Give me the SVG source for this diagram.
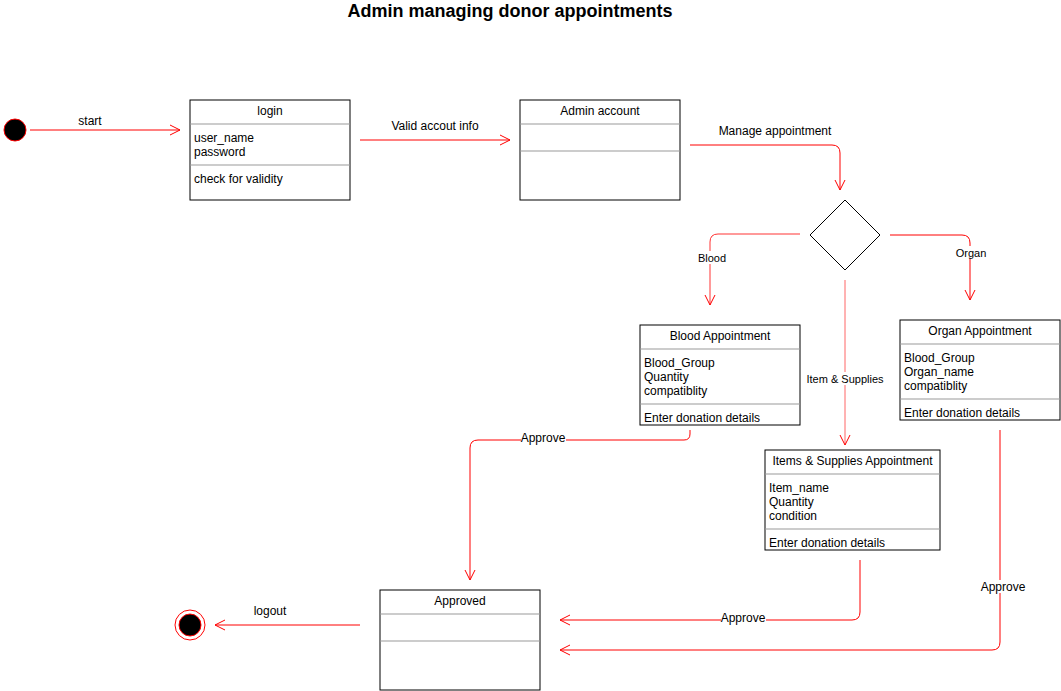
<svg xmlns="http://www.w3.org/2000/svg" width="1061" height="691" viewBox="0 0 1061 691">
<style>
text{font-family:"Liberation Sans",Arial,Helvetica,sans-serif;font-size:12px;fill:#000}
.box{fill:#fff;stroke:#000;stroke-width:1}
.sep{stroke:#999;stroke-width:1}
.c{text-anchor:middle}
.e{fill:none;stroke:#ff0000;stroke-width:1;marker-end:url(#arr)}
.lbl{font-size:11px;text-anchor:middle}
.bg{fill:#fff}
</style>
<defs>
<marker id="arr" viewBox="0 0 12 12" refX="11" refY="6" markerWidth="12" markerHeight="12" markerUnits="userSpaceOnUse" orient="auto">
<path d="M1,1 L11,6 L1,11" fill="none" stroke="#ff0000" stroke-width="1"/>
</marker>
</defs>
<rect width="1061" height="691" fill="#fff"/>
<text x="510" y="17" class="c" style="font-size:18px;font-weight:bold">Admin managing donor appointments</text>

<g id="connectors">
<path class="e" d="M30,130 L180,130"/>
<text x="90" y="125" class="c">start</text>
<path class="e" d="M360,140 L510,140"/>
<text x="435" y="130" class="c">Valid accout info</text>
<path class="e" d="M690,145 L832,145 Q840,145 840,153 L840,190"/>
<text x="775" y="135" class="c">Manage appointment</text>
<path class="e" d="M800,234 L718,234 Q710,234 710,242 L710,305" stroke-opacity="0.8"/>
<rect x="696" y="251" width="32" height="13" class="bg"/>
<text x="712" y="262" class="lbl">Blood</text>
<path class="e" d="M890,235 L962,235 Q970,235 970,243 L970,300"/>
<rect x="954" y="246" width="34" height="13" class="bg"/>
<text x="971" y="257" class="lbl">Organ</text>
<path class="e" d="M845,280 L845,445" stroke-opacity="0.6"/>
<rect x="805" y="372" width="80" height="13" class="bg"/>
<text x="845" y="383" class="lbl">Item &amp; Supplies</text>
<path class="e" d="M690,430 L690,434 Q690,440 684,440 L478,440 Q470,440 470,448 L470,580"/>
<rect x="521" y="431" width="45" height="13" class="bg"/>
<text x="543" y="442" class="c">Approve</text>
<path class="e" d="M860,560 L860,612 Q860,620 852,620 L560,620"/>
<rect x="721" y="611" width="45" height="13" class="bg"/>
<text x="743" y="622" class="c">Approve</text>
<path class="e" d="M1000,430 L1000,642 Q1000,650 992,650 L560,650"/>
<rect x="980" y="580" width="46" height="13" class="bg"/>
<text x="1003" y="591" class="c">Approve</text>
<path class="e" d="M360,625 L215,625"/>
<text x="270" y="615" class="c">logout</text>
</g>

<g id="start">
<circle cx="15" cy="130" r="11" fill="#000" stroke="#ff0000" stroke-width="1"/>
</g>

<g id="login">
<rect x="190" y="100" width="160" height="100" class="box"/>
<line x1="190" y1="124" x2="350" y2="124" class="sep"/>
<line x1="190" y1="165" x2="350" y2="165" class="sep"/>
<text x="270" y="115" class="c">login</text>
<text x="194" y="142">user_name</text>
<text x="194" y="156">password</text>
<text x="194" y="183">check for validity</text>
</g>

<g id="admin">
<rect x="520" y="100" width="160" height="100" class="box"/>
<line x1="520" y1="124" x2="680" y2="124" class="sep"/>
<line x1="520" y1="151" x2="680" y2="151" class="sep"/>
<text x="600" y="115" class="c">Admin account</text>
</g>

<g id="decision">
<polygon points="845,200 880,235 845,270 810,235" fill="#fff" stroke="#000" stroke-width="1"/>
</g>

<g id="blood">
<rect x="640" y="325" width="160" height="100" class="box"/>
<line x1="640" y1="349" x2="800" y2="349" class="sep"/>
<line x1="640" y1="404" x2="800" y2="404" class="sep"/>
<text x="720" y="340" class="c">Blood Appointment</text>
<text x="644" y="367">Blood_Group</text>
<text x="644" y="381">Quantity</text>
<text x="644" y="395">compatiblity</text>
<text x="644" y="422">Enter donation details</text>
</g>

<g id="organ">
<rect x="900" y="320" width="160" height="100" class="box"/>
<line x1="900" y1="344" x2="1060" y2="344" class="sep"/>
<line x1="900" y1="399" x2="1060" y2="399" class="sep"/>
<text x="980" y="335" class="c">Organ Appointment</text>
<text x="904" y="362">Blood_Group</text>
<text x="904" y="376">Organ_name</text>
<text x="904" y="390">compatiblity</text>
<text x="904" y="417">Enter donation details</text>
</g>

<g id="items">
<rect x="765" y="450" width="175" height="100" class="box"/>
<line x1="765" y1="474" x2="940" y2="474" class="sep"/>
<line x1="765" y1="529" x2="940" y2="529" class="sep"/>
<text x="852.5" y="465" class="c">Items &amp; Supplies Appointment</text>
<text x="769" y="492">Item_name</text>
<text x="769" y="506">Quantity</text>
<text x="769" y="520">condition</text>
<text x="769" y="547">Enter donation details</text>
</g>

<g id="approved">
<rect x="380" y="590" width="160" height="100" class="box"/>
<line x1="380" y1="614" x2="540" y2="614" class="sep"/>
<line x1="380" y1="641" x2="540" y2="641" class="sep"/>
<text x="460" y="605" class="c">Approved</text>
</g>

<g id="end">
<circle cx="190" cy="625" r="15" fill="#fff" stroke="#ff0000" stroke-width="1"/>
<circle cx="190" cy="625" r="11" fill="#000" stroke="#ff0000" stroke-width="1"/>
</g>
</svg>
